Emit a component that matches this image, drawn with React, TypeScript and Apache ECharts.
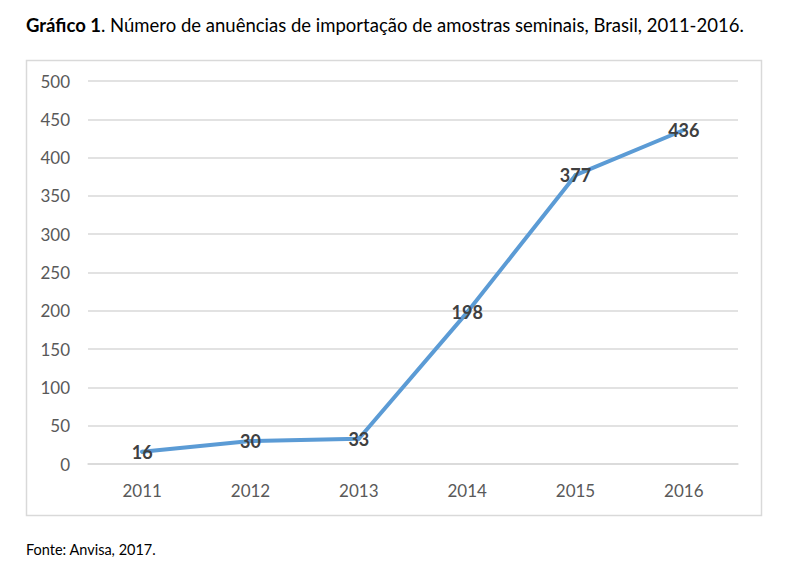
import React, { useEffect, useRef } from "react";
import * as echarts from "echarts";

const years = ["2011", "2012", "2013", "2014", "2015", "2016"];
const anuencias = [16, 30, 33, 198, 377, 436];
const titleBold = "Gráfico 1";
const titleRest = ". Número de anuências de importação de amostras seminais, Brasil, 2011-2016.";
const source = "Fonte: Anvisa, 2017.";

export default function App() {
  const ref = useRef<HTMLDivElement>(null);
  useEffect(() => {
    if (!ref.current) return;
    const chart = echarts.init(ref.current, null, { renderer: "svg" });
    const font = "Lato, 'Open Sans', sans-serif";
    chart.setOption({
      animation: false,
      backgroundColor: "#ffffff",
      textStyle: { fontFamily: font },
      graphic: [
        {
          type: "rect",
          shape: { x: 26.5, y: 60.5, width: 735, height: 455 },
          style: { fill: "none", stroke: "#d9d9d9", lineWidth: 1.5 },
          z: 0,
        },
        {
          type: "text",
          x: 26,
          y: 25,
          style: {
            text: "{b|" + titleBold + "}" + titleRest,
            fontFamily: font,
            fontSize: 18.5,
            fill: "#000000",
            verticalAlign: "middle",
            rich: { b: { fontWeight: "bold", fontSize: 18.5, fontFamily: font, fill: "#000000" } },
          },
        },
        {
          type: "text",
          x: 26,
          y: 549,
          style: {
            text: source,
            fontFamily: font,
            fontSize: 14.5,
            fill: "#000000",
            verticalAlign: "middle",
          },
        },
      ],
      grid: { left: 88, right: 58, top: 81, bottom: 99, containLabel: false },
      xAxis: {
        type: "category",
        data: years,
        boundaryGap: true,
        axisLine: { show: true, lineStyle: { color: "#d9d9d9", width: 1.5 } },
        axisTick: { show: false },
        axisLabel: { color: "#595959", fontSize: 17, margin: 18, fontFamily: font },
      },
      yAxis: {
        type: "value",
        min: 0,
        max: 500,
        interval: 50,
        axisLine: { show: false },
        axisTick: { show: false },
        splitLine: { lineStyle: { color: "#d9d9d9", width: 1.5 } },
        axisLabel: { color: "#595959", fontSize: 17, margin: 18, fontFamily: font },
      },
      series: [
        {
          type: "line",
          data: anuencias,
          symbol: "circle",
          symbolSize: 4,
          showSymbol: true,
          lineStyle: { color: "#5b9bd5", width: 4, cap: "round", join: "round" },
          itemStyle: { color: "#5b9bd5" },
          label: {
            show: true,
            position: "inside",
            color: "#404040",
            fontWeight: "bold",
            fontSize: 18,
            fontFamily: font,
          },
        },
      ],
    });
    return () => chart.dispose();
  }, []);
  return (
    <div
      ref={ref}
      style={{ position: "fixed", left: 0, top: 0, width: 796, height: 563 }}
    />
  );
}
